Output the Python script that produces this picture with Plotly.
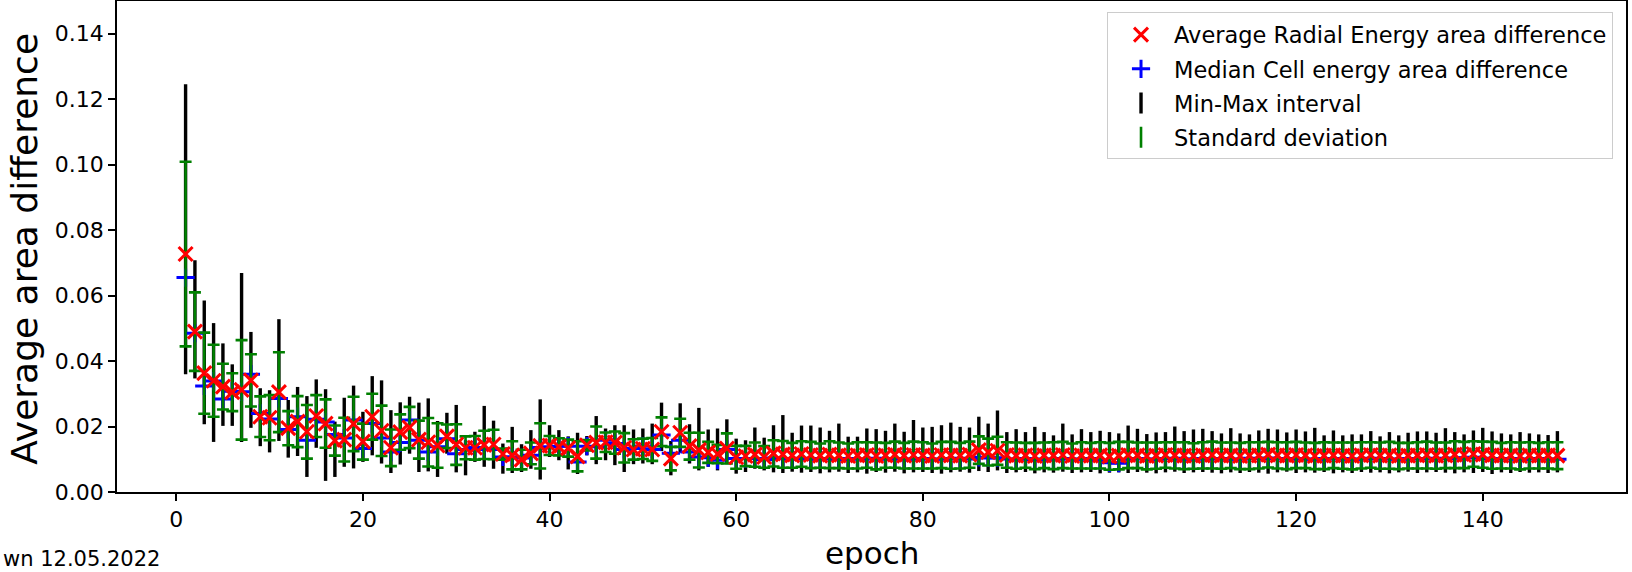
import plotly.graph_objects as go

epochs = list(range(1, 149))

mean_radial = [
    0.0727, 0.0490, 0.0363, 0.0340, 0.0322, 0.0305, 0.0312, 0.0341, 0.0230, 0.0227,
    0.0305, 0.0195, 0.0215, 0.0184, 0.0232, 0.0209, 0.0157, 0.0160, 0.0208, 0.0154,
    0.0230, 0.0187, 0.0135, 0.0183, 0.0197, 0.0160, 0.0152, 0.0142, 0.0170, 0.0145,
    0.0135, 0.0135, 0.0144, 0.0145, 0.0116, 0.0112, 0.0099, 0.0118, 0.0141, 0.0142,
    0.0138, 0.0134, 0.0109, 0.0143, 0.0151, 0.0152, 0.0151, 0.0135, 0.0130, 0.0132,
    0.0130, 0.0184, 0.0102, 0.0181, 0.0140, 0.0128, 0.0121, 0.0116, 0.0133, 0.0106,
    0.0110, 0.0114, 0.0107, 0.0118, 0.0115, 0.0112, 0.0116, 0.0113, 0.0111, 0.0114,
    0.0112, 0.0110, 0.0112, 0.0113, 0.0110, 0.0112, 0.0114, 0.0111, 0.0113, 0.0112,
    0.0110, 0.0113, 0.0112, 0.0111, 0.0114, 0.0128, 0.0122, 0.0126, 0.0113, 0.0111,
    0.0112, 0.0110, 0.0112, 0.0111, 0.0113, 0.0110, 0.0112, 0.0111, 0.0112, 0.0109,
    0.0111, 0.0113, 0.0112, 0.0110, 0.0111, 0.0113, 0.0112, 0.0111, 0.0110, 0.0112,
    0.0113, 0.0111, 0.0112, 0.0110, 0.0111, 0.0112, 0.0114, 0.0112, 0.0111, 0.0113,
    0.0112, 0.0110, 0.0111, 0.0112, 0.0111, 0.0110, 0.0112, 0.0113, 0.0111, 0.0112,
    0.0110, 0.0111, 0.0112, 0.0113, 0.0111, 0.0112, 0.0114, 0.0113, 0.0116, 0.0114,
    0.0112, 0.0111, 0.0112, 0.0110, 0.0112, 0.0111, 0.0112, 0.0111,
]

median_cell = [
    0.0655, 0.0485, 0.0324, 0.0339, 0.0284, 0.0308, 0.0306, 0.0360, 0.0240, 0.0223,
    0.0286, 0.0191, 0.0230, 0.0158, 0.0222, 0.0214, 0.0176, 0.0165, 0.0220, 0.0133,
    0.0209, 0.0165, 0.0122, 0.0151, 0.0220, 0.0158, 0.0122, 0.0138, 0.0163, 0.0117,
    0.0130, 0.0136, 0.0130, 0.0130, 0.0107, 0.0107, 0.0104, 0.0112, 0.0136, 0.0138,
    0.0140, 0.0140, 0.0092, 0.0140, 0.0138, 0.0158, 0.0148, 0.0130, 0.0133, 0.0140,
    0.0130, 0.0174, 0.0118, 0.0158, 0.0122, 0.0107, 0.0105, 0.0097, 0.0130, 0.0102,
    0.0102, 0.0102, 0.0099, 0.0104, 0.0102, 0.0101, 0.0103, 0.0100, 0.0102, 0.0101,
    0.0099, 0.0102, 0.0100, 0.0101, 0.0103, 0.0100, 0.0102, 0.0101, 0.0100, 0.0102,
    0.0101, 0.0100, 0.0102, 0.0103, 0.0101, 0.0106, 0.0104, 0.0105, 0.0101, 0.0100,
    0.0102, 0.0099, 0.0101, 0.0100, 0.0102, 0.0101, 0.0100, 0.0102, 0.0096, 0.0089,
    0.0088, 0.0100, 0.0102, 0.0101, 0.0100, 0.0102, 0.0103, 0.0101, 0.0100, 0.0102,
    0.0101, 0.0102, 0.0100, 0.0101, 0.0103, 0.0102, 0.0104, 0.0102, 0.0101, 0.0102,
    0.0101, 0.0100, 0.0102, 0.0101, 0.0102, 0.0100, 0.0101, 0.0103, 0.0102, 0.0101,
    0.0100, 0.0102, 0.0101, 0.0102, 0.0103, 0.0102, 0.0104, 0.0105, 0.0106, 0.0103,
    0.0102, 0.0101, 0.0102, 0.0100, 0.0101, 0.0102, 0.0101, 0.0100,
]

std_dev = [
    0.0282, 0.0120, 0.0124, 0.0110, 0.0070, 0.0058, 0.0152, 0.0080, 0.0062, 0.0069,
    0.0122, 0.0052, 0.0078, 0.0082, 0.0064, 0.0074, 0.0046, 0.0067, 0.0083, 0.0055,
    0.0070, 0.0077, 0.0056, 0.0054, 0.0063, 0.0058, 0.0074, 0.0068, 0.0036, 0.0062,
    0.0035, 0.0036, 0.0043, 0.0045, 0.0017, 0.0043, 0.0030, 0.0033, 0.0069, 0.0029,
    0.0026, 0.0026, 0.0046, 0.0016, 0.0049, 0.0030, 0.0034, 0.0045, 0.0031, 0.0031,
    0.0035, 0.0044, 0.0036, 0.0043, 0.0041, 0.0053, 0.0032, 0.0028, 0.0046, 0.0035,
    0.0031, 0.0037, 0.0033, 0.0040, 0.0041, 0.0038, 0.0039, 0.0040, 0.0037, 0.0041,
    0.0039, 0.0038, 0.0040, 0.0039, 0.0041, 0.0038, 0.0040, 0.0039, 0.0041, 0.0040,
    0.0038, 0.0040, 0.0041, 0.0039, 0.0040, 0.0042, 0.0041, 0.0043, 0.0039, 0.0040,
    0.0038, 0.0040, 0.0039, 0.0041, 0.0040, 0.0038, 0.0040, 0.0039, 0.0040, 0.0041,
    0.0042, 0.0040, 0.0039, 0.0041, 0.0040, 0.0039, 0.0040, 0.0041, 0.0039, 0.0040,
    0.0041, 0.0040, 0.0039, 0.0040, 0.0041, 0.0040, 0.0039, 0.0040, 0.0041, 0.0040,
    0.0039, 0.0040, 0.0041, 0.0039, 0.0040, 0.0041, 0.0040, 0.0039, 0.0040, 0.0041,
    0.0040, 0.0039, 0.0040, 0.0041, 0.0040, 0.0039, 0.0041, 0.0040, 0.0039, 0.0040,
    0.0041, 0.0039, 0.0040, 0.0041, 0.0040, 0.0039, 0.0040, 0.0041,
]

min_value = [
    0.0360, 0.0347, 0.0207, 0.0153, 0.0202, 0.0202, 0.0153, 0.0196, 0.0140, 0.0121,
    0.0156, 0.0105, 0.0110, 0.0046, 0.0135, 0.0034, 0.0046, 0.0077, 0.0072, 0.0092,
    0.0112, 0.0087, 0.0058, 0.0084, 0.0117, 0.0061, 0.0063, 0.0046, 0.0117, 0.0060,
    0.0051, 0.0092, 0.0077, 0.0071, 0.0056, 0.0058, 0.0061, 0.0071, 0.0038, 0.0107,
    0.0097, 0.0069, 0.0055, 0.0112, 0.0085, 0.0097, 0.0082, 0.0061, 0.0085, 0.0087,
    0.0085, 0.0125, 0.0051, 0.0120, 0.0087, 0.0066, 0.0077, 0.0066, 0.0085, 0.0056,
    0.0061, 0.0071, 0.0066, 0.0060, 0.0058, 0.0062, 0.0059, 0.0061, 0.0057, 0.0060,
    0.0062, 0.0058, 0.0060, 0.0056, 0.0061, 0.0059, 0.0062, 0.0057, 0.0060, 0.0061,
    0.0058, 0.0056, 0.0060, 0.0062, 0.0059, 0.0064, 0.0061, 0.0066, 0.0058, 0.0060,
    0.0061, 0.0057, 0.0060, 0.0059, 0.0062, 0.0058, 0.0060, 0.0061, 0.0057, 0.0059,
    0.0060, 0.0058, 0.0061, 0.0059, 0.0057, 0.0060, 0.0062, 0.0058, 0.0060, 0.0061,
    0.0059, 0.0057, 0.0060, 0.0058, 0.0061, 0.0059, 0.0056, 0.0060, 0.0062, 0.0058,
    0.0060, 0.0059, 0.0061, 0.0057, 0.0060, 0.0058, 0.0061, 0.0059, 0.0060, 0.0057,
    0.0060, 0.0062, 0.0058, 0.0060, 0.0061, 0.0059, 0.0057, 0.0060, 0.0058, 0.0061,
    0.0055, 0.0060, 0.0058, 0.0061, 0.0059, 0.0060, 0.0058, 0.0060,
]

max_value = [
    0.1246, 0.0708, 0.0585, 0.0516, 0.0454, 0.0390, 0.0669, 0.0489, 0.0317, 0.0311,
    0.0528, 0.0281, 0.0321, 0.0293, 0.0344, 0.0314, 0.0215, 0.0288, 0.0325, 0.0245,
    0.0354, 0.0341, 0.0250, 0.0274, 0.0291, 0.0273, 0.0286, 0.0217, 0.0242, 0.0266,
    0.0158, 0.0184, 0.0263, 0.0218, 0.0148, 0.0199, 0.0146, 0.0189, 0.0283, 0.0204,
    0.0189, 0.0170, 0.0181, 0.0171, 0.0232, 0.0194, 0.0204, 0.0204, 0.0191, 0.0194,
    0.0209, 0.0273, 0.0156, 0.0271, 0.0207, 0.0257, 0.0191, 0.0194, 0.0222, 0.0163,
    0.0158, 0.0197, 0.0166, 0.0204, 0.0235, 0.0181, 0.0203, 0.0203, 0.0197, 0.0187,
    0.0209, 0.0169, 0.0169, 0.0194, 0.0192, 0.0187, 0.0209, 0.0184, 0.0220, 0.0197,
    0.0199, 0.0204, 0.0212, 0.0199, 0.0197, 0.0230, 0.0209, 0.0249, 0.0183, 0.0192,
    0.0183, 0.0199, 0.0183, 0.0173, 0.0209, 0.0176, 0.0192, 0.0183, 0.0187, 0.0183,
    0.0179, 0.0203, 0.0193, 0.0177, 0.0182, 0.0183, 0.0200, 0.0186, 0.0191, 0.0193,
    0.0186, 0.0179, 0.0195, 0.0179, 0.0176, 0.0188, 0.0193, 0.0191, 0.0182, 0.0191,
    0.0185, 0.0196, 0.0173, 0.0188, 0.0173, 0.0176, 0.0176, 0.0186, 0.0170, 0.0183,
    0.0173, 0.0181, 0.0185, 0.0185, 0.0181, 0.0195, 0.0183, 0.0176, 0.0188, 0.0196,
    0.0185, 0.0179, 0.0176, 0.0183, 0.0179, 0.0176, 0.0174, 0.0186,
]

x_tick_values = [0, 20, 40, 60, 80, 100, 120, 140]
y_tick_values = [0.0, 0.02, 0.04, 0.06, 0.08, 0.10, 0.12, 0.14]
y_tick_labels = ["0.00", "0.02", "0.04", "0.06", "0.08", "0.10", "0.12", "0.14"]

FONT = "DejaVu Sans"
minmax_span = [hi - lo for hi, lo in zip(max_value, min_value)]
zeros = [0.0] * len(epochs)

fig = go.Figure()

# Min-Max interval (black bars, no caps)
fig.add_trace(go.Scatter(
    x=epochs, y=min_value, mode="markers",
    marker=dict(size=1, opacity=0),
    error_y=dict(type="data", symmetric=False, array=minmax_span, arrayminus=zeros,
                 color="black", thickness=3.4, width=0),
    showlegend=False, hoverinfo="skip",
))

# Median cell energy (blue +)
fig.add_trace(go.Scatter(
    x=epochs, y=median_cell, mode="markers",
    name="Median Cell energy area difference",
    marker=dict(symbol="cross-thin", size=13, color="#0000ff",
                line=dict(color="#0000ff", width=3)),
    legendgroup="b", legendrank=2,
))

# Standard deviation (green with caps)
fig.add_trace(go.Scatter(
    x=epochs, y=mean_radial, mode="markers",
    marker=dict(size=1, opacity=0),
    error_y=dict(type="data", symmetric=True, array=std_dev,
                 color="#008000", thickness=2.6, width=6),
    showlegend=False, hoverinfo="skip",
))

# Average radial energy (red x)
fig.add_trace(go.Scatter(
    x=epochs, y=mean_radial, mode="markers",
    name="Average Radial Energy area difference",
    marker=dict(symbol="x-thin", size=14, color="#ff0000",
                line=dict(color="#ff0000", width=3)),
    legendgroup="a", legendrank=1,
))

# Legend entries for the error bar series
fig.add_trace(go.Scatter(
    x=[None], y=[None], mode="markers", name="Min-Max interval",
    marker=dict(symbol="line-ns", size=15, color="black",
                line=dict(color="black", width=3.4)),
    legendgroup="c", legendrank=3,
))
fig.add_trace(go.Scatter(
    x=[None], y=[None], mode="markers", name="Standard deviation",
    marker=dict(symbol="line-ns", size=15, color="#008000",
                line=dict(color="#008000", width=2.6)),
    legendgroup="d", legendrank=4,
))

axis_common = dict(
    showline=True, linecolor="black", linewidth=1.5, mirror=True,
    ticks="outside", ticklen=7, tickwidth=1.5, tickcolor="black",
    showgrid=False, zeroline=False, automargin=False,
    tickfont=dict(family=FONT, size=22, color="black"),
)

fig.update_layout(
    width=1632, height=572,
    paper_bgcolor="white", plot_bgcolor="white",
    margin=dict(l=117, r=6, t=1, b=80, autoexpand=False),
    font=dict(family=FONT, color="black"),
    xaxis=dict(range=[-6.35, 155.35], tickmode="array",
               tickvals=x_tick_values, **axis_common),
    yaxis=dict(range=[0, 0.15], tickmode="array",
               tickvals=y_tick_values, ticktext=y_tick_labels,
               **axis_common),
    legend=dict(
        x=0.9914, y=0.9766, xanchor="right", yanchor="top",
        bgcolor="rgba(255,255,255,0.85)", bordercolor="#cccccc", borderwidth=1,
        font=dict(family=FONT, size=22.5, color="black"),
        traceorder="grouped", tracegroupgap=2, itemwidth=56,
    ),
    annotations=[
        dict(text="Average area difference", xref="paper", yref="paper",
             x=-0.0613, y=0.4966, xanchor="center", yanchor="middle", textangle=-90,
             showarrow=False, font=dict(family=FONT, size=36, color="black")),
        dict(text="epoch", xref="paper", yref="paper",
             x=0.5, y=-0.124, xanchor="center", yanchor="middle", borderpad=0,
             showarrow=False, font=dict(family=FONT, size=31, color="black")),
        dict(text="wn 12.05.2022", xref="paper", yref="paper",
             x=-0.0768, y=-0.137, xanchor="left", yanchor="middle",
             showarrow=False, font=dict(family=FONT, size=21, color="black")),
    ],
)

fig.write_html(
    "out.html",
    config={"displayModeBar": False},
    post_script="document.body.style.margin = '0px';",
)
